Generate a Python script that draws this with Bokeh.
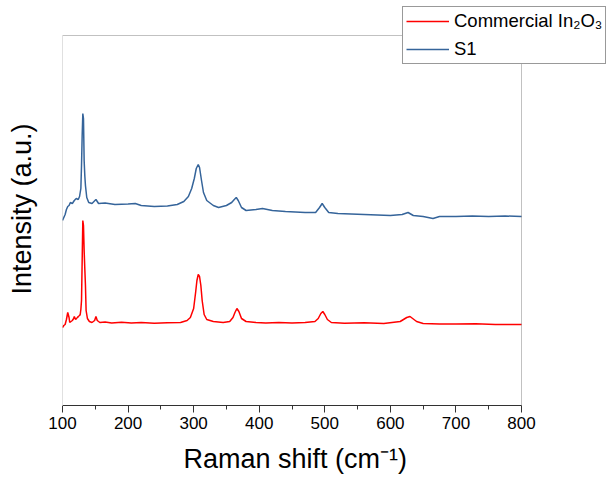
from bokeh.plotting import figure
from bokeh.models import Legend, LegendItem, FixedTicker, Range1d, BoxAnnotation, Title, LinearAxis
from bokeh.embed import file_html
from bokeh.resources import INLINE

# Raman shift (cm^-1) and intensities (a.u., offset traces)
red_x = [100, 102, 104, 106, 108, 110, 111, 113, 115, 117, 118, 120, 121, 123, 124, 126, 127, 128, 129, 130,
         131, 132, 133, 134, 135, 136, 138, 141, 145, 149, 151, 153, 157, 165, 175, 190, 205, 220, 240, 260,
         280, 290, 295, 300, 303, 305, 307, 309, 311, 313, 316, 320, 330, 345, 355, 360, 363, 366, 369, 373,
         380, 395, 410, 430, 450, 470, 485, 490, 494, 497, 500, 504, 510, 530, 560, 590, 615, 620, 625, 630,
         634, 640, 650, 675, 700, 730, 760, 800]
red_y = [78, 80, 81, 86, 93, 88, 83, 84, 85, 87, 89, 86, 87, 88, 89, 90, 91, 96, 105, 145,
         185, 180, 155, 137, 120, 95, 87, 84, 83, 85, 89, 85, 83, 83.5, 82.6, 83.2, 82.4, 83, 82.2, 82.8,
         83, 85, 88, 97, 113, 125, 131, 129, 120, 105, 91, 86, 84, 83, 84, 88, 93, 97, 94, 87,
         84, 83, 82.4, 83, 82.5, 83, 84, 87, 92, 94, 91, 86, 83, 82.3, 82.8, 82, 84, 86, 88, 89,
         87, 84, 82, 81.6, 81.5, 81.8, 81, 81]

s1_x = [100, 102, 104, 106, 108, 110, 112, 115, 118, 121, 124, 126, 128, 129, 130, 131, 132, 133, 134, 135,
        137, 140, 145, 151, 155, 165, 180, 200, 211, 220, 240, 260, 275, 285, 292, 297, 301, 304, 307, 309,
        312, 315, 320, 330, 338, 350, 358, 362, 365, 368, 373, 380, 395, 405, 420, 440, 470, 486, 492, 496,
        500, 506, 520, 540, 560, 580, 600, 618, 627, 635, 650, 665, 675, 700, 725, 750, 775, 800]
s1_y = [185, 188, 191, 196, 199, 200, 203, 202, 205, 207, 206, 209, 217, 240, 270, 292, 287, 245, 230, 220,
        208, 203, 202, 206, 202, 202.5, 201, 201.5, 202, 200, 199, 199.5, 201, 204, 209, 217, 227, 237, 241, 238,
        225, 213, 205, 200, 198, 200, 203, 206, 208, 205, 198, 195, 196, 197, 195, 194, 193, 193, 198, 202,
        198, 193, 192, 191.5, 191, 190.5, 190, 191, 193, 190, 189, 187, 189, 189, 189.5, 189, 189.5, 189]

x_ticks = [100, 200, 300, 400, 500, 600, 700, 800]
x_minor = [150, 250, 350, 450, 550, 650, 750]
X_LO, X_HI = 100, 800
Y_LO, Y_HI = 0, 370

RED = "#FF0000"
BLUE = "#35649A"
FONT = "Liberation Sans"
EDGE = "#333333"

p = figure(width=608, height=482, output_backend="svg", toolbar_location=None,
           x_range=Range1d(X_LO, X_HI + (X_HI - X_LO) * 87 / 459),
           y_range=Range1d(Y_LO, Y_HI + (Y_HI - Y_LO) * 35 / 370),
           min_border_left=62, min_border_right=0, min_border_top=0, min_border_bottom=77)
p.outline_line_color = None
p.grid.visible = False

r_red = p.line(red_x, red_y, line_color=RED, line_width=1.5)
r_blue = p.line(s1_x, s1_y, line_color=BLUE, line_width=1.5)

# plot frame (the canvas frame is extended so the legend can overhang the corner)
p.add_layout(BoxAnnotation(left=X_LO, right=X_HI, bottom=Y_LO, top=Y_HI,
                           fill_alpha=0, line_color=EDGE, line_width=1))

xa = p.xaxis[0]
xa.bounds = (X_LO, X_HI)
xa.ticker = FixedTicker(ticks=x_ticks, minor_ticks=x_minor)
xa.major_tick_in = 0
xa.major_tick_out = 7
xa.minor_tick_in = 0
xa.minor_tick_out = 4
xa.axis_line_color = EDGE
xa.major_tick_line_color = EDGE
xa.minor_tick_line_color = EDGE
xa.major_label_text_font = FONT
xa.major_label_text_font_size = "17px"
xa.major_label_text_color = "black"
xa.major_label_standoff = 4

# blank spacer axis below the tick labels (white tick only reserves room)
spacer = LinearAxis(ticker=FixedTicker(ticks=[X_LO], minor_ticks=[]), bounds=(X_LO, X_LO),
                    axis_line_color=None, major_tick_in=0, major_tick_out=10,
                    major_tick_line_color="white", minor_tick_line_color=None,
                    major_label_text_color=None, major_label_text_font_size="1px",
                    major_label_standoff=0)
p.add_layout(spacer, "below")

# y axis: no visible ticks; its white tick only reserves room left of the frame
ya = p.yaxis[0]
ya.bounds = (Y_LO, Y_HI)
ya.ticker = FixedTicker(ticks=[Y_LO], minor_ticks=[])
ya.major_tick_out = 26
ya.major_tick_in = 0
ya.major_tick_line_color = "white"
ya.minor_tick_line_color = None
ya.major_label_text_color = None
ya.major_label_text_font_size = "1px"
ya.major_label_standoff = 0
ya.axis_line_color = None

xt = Title(text="Raman shift (cm\u207b\u00b9)", align="left", offset=121, vertical_align="bottom",
           standoff=0, text_font=FONT, text_font_size="27px", text_font_style="normal", text_color="black")
p.add_layout(xt, "below")
yt = Title(text="Intensity (a.u.)", align="left", offset=111, vertical_align="bottom",
           standoff=0, text_font=FONT, text_font_size="27px", text_font_style="normal", text_color="black")
p.add_layout(yt, "left")

legend = Legend(items=[LegendItem(label="Commercial In\u2082O\u2083", renderers=[r_red]),
                       LegendItem(label="S1", renderers=[r_blue])],
                location=(340, 341))
legend.label_text_font = FONT
legend.label_text_font_size = "18.5px"
legend.label_text_color = "black"
legend.glyph_width = 43
legend.glyph_height = 22
legend.label_height = 22
legend.spacing = 6
legend.padding = 3
legend.margin = 0
legend.label_standoff = 5
legend.border_line_color = EDGE
legend.border_line_width = 1
legend.background_fill_color = "white"
legend.background_fill_alpha = 1
p.add_layout(legend, "center")

open("out.html", "w").write(file_html(p, INLINE))
